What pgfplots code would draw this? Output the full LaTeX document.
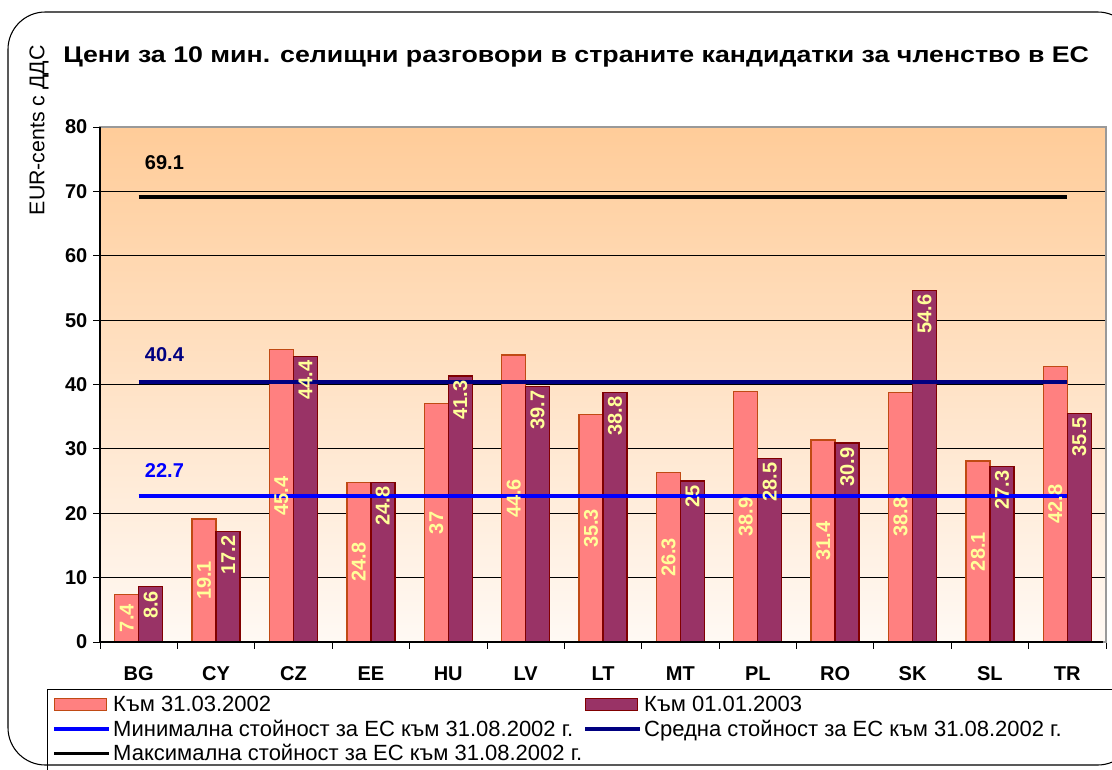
\documentclass[border=0pt]{standalone}
\usepackage{fontspec}
\setmainfont{Liberation Sans}
\usepackage{pgfplots}
\usepackage{pgfplotstable}
\pgfplotsset{compat=1.18}
\definecolor{pinkbar}{HTML}{FF8080}
\definecolor{pinkedge}{HTML}{C04A14}
\definecolor{maroonbar}{HTML}{993366}
\definecolor{maroonedge}{HTML}{800000}
\definecolor{lbl}{HTML}{FFFF99}
\definecolor{bgtop}{HTML}{FFCC99}
\definecolor{bgbot}{HTML}{FFF9F4}
\definecolor{navyl}{HTML}{000080}
\definecolor{bluel}{HTML}{0000FF}
\pgfplotstableread{
x pink maroon
0 7.4 8.6
1 19.1 17.2
2 45.4 44.4
3 24.8 24.8
4 37 41.3
5 44.6 39.7
6 35.3 38.8
7 26.3 25
8 38.9 28.5
9 31.4 30.9
10 38.8 54.6
11 28.1 27.3
12 42.8 35.5
}\datatable
\begin{document}
\begin{tikzpicture}[x=0.75pt,y=0.75pt]
\path[use as bounding box] (0,0) rectangle (1112,769);
\begin{scope}
\clip (0,0) rectangle (1112,769);
\fill[white] (0,0) rectangle (1112,769);
\draw[line width=0.8pt, rounded corners=28] (8,4) rectangle (1135,757);
\node[anchor=west, inner sep=0pt] at (63,712) {\scalebox{1.18}[1]{\bfseries\fontsize{17}{20}\selectfont Цени за 10 мин. селищни разговори в страните кандидатки за членство в ЕС}};
\node[rotate=90, anchor=east, font=\fontsize{16}{18}\selectfont, inner sep=0pt] at (39,724) {EUR-cents с ДДС};
\draw[black, line width=0.7pt] (1125,-5) -- (47,-5) -- (47,80) -- (1125,80);
\begin{axis}[
  at={(75pt,95.25pt)}, anchor=south west,
  scale only axis, width=754.5pt, height=386.25pt,
  xmin=-0.5, xmax=12.5, ymin=0, ymax=80,
  xtick={-0.5,0.5,...,12.5},
  x tick label as interval,
  xticklabels={BG,CY,CZ,EE,HU,LV,LT,MT,PL,RO,SK,SL,TR},
  ytick={0,10,...,80},
  tick pos=left, tick align=outside,
  major tick length=5pt,
  tick style={black, line width=0.6pt},
  ymajorgrids,
  major grid style={black, line width=0.6pt},
  axis line style={draw=gray!80, line width=0.8pt},
  axis background/.style={top color=bgtop, bottom color=bgbot},
  /pgf/number format/assume math mode=true,
  ticklabel style={font=\bfseries\fontsize{15}{18}\selectfont},
  xticklabel style={yshift=-10pt},
  yticklabel style={xshift=-1pt},
  legend columns=2,
  legend style={
    at={(-0.0527,-0.0913)}, anchor=north west,
    draw=none, fill=none,
    font=\fontsize{16.5}{19}\selectfont,
    cells={anchor=west},
    inner xsep=4pt, inner ysep=3pt,
    row sep=0.8pt,
    /tikz/every even column/.append style={column sep=-1pt},
  },
  legend cell align=left,
]
\addplot[ybar, bar width=18pt, bar shift=-9pt, fill=pinkbar, draw=pinkedge, line width=1pt,
  legend image code/.code={\draw[fill=pinkbar, draw=pinkedge, line width=1pt] (0pt,-4.5pt) rectangle (39pt,4.5pt);}
] table[x=x, y=pink] {\datatable};
\addlegendentry{Към 31.03.2002}
\addplot[ybar, bar width=18pt, bar shift=9pt, fill=maroonbar, draw=maroonedge, line width=1pt,
  legend image code/.code={\draw[fill=maroonbar, draw=maroonedge, line width=1pt] (0pt,-4.5pt) rectangle (39pt,4.5pt);}
] table[x=x, y=maroon] {\datatable};
\addlegendentry{Към 01.01.2003}
\addplot[bluel, line width=3pt, legend image code/.code={\draw[bluel, line width=2.5pt] (0pt,0pt) -- (41pt,0pt);}] coordinates {(0,22.7) (12,22.7)};
\addlegendentry{Минимална стойност за ЕС към 31.08.2002 г.}
\addplot[navyl, line width=3pt, legend image code/.code={\draw[navyl, line width=2.5pt] (0pt,0pt) -- (41pt,0pt);}] coordinates {(0,40.4) (12,40.4)};
\addlegendentry{Средна стойност за ЕС към 31.08.2002 г.}
\addplot[black, line width=3pt, legend image code/.code={\draw[black, line width=2.5pt] (0pt,0pt) -- (41pt,0pt);}] coordinates {(0,69.1) (12,69.1)};
\addlegendentry{Максимална стойност за ЕС към 31.08.2002 г.}
% value labels on top of the lines
\addplot[forget plot, ybar, bar width=18pt, bar shift=-9pt, draw=none, fill=none,
  visualization depends on=rawy \as \rawy,
  nodes near coords={\rotatebox{90}{\pgfmathprintnumber{\pgfplotspointmeta}}},
  every node near coord/.append style={anchor=center, xshift=-9pt, yshift=-\rawy*2.414pt, text=lbl, font=\bfseries\fontsize{15}{17}\selectfont},
] table[x=x, y=pink] {\datatable};
\addplot[forget plot, ybar, bar width=18pt, bar shift=9pt, draw=none, fill=none,
  nodes near coords={\rotatebox{90}{\pgfmathprintnumber{\pgfplotspointmeta}}},
  every node near coord/.append style={anchor=north, xshift=9pt, inner sep=3pt, text=lbl, font=\bfseries\fontsize{15}{17}\selectfont},
] table[x=x, y=maroon] {\datatable};
\node[anchor=west, font=\bfseries\fontsize{15}{18}\selectfont, text=black] at (axis cs:0.02,74.4) {69.1};
\node[anchor=west, font=\bfseries\fontsize{15}{18}\selectfont, text=navyl] at (axis cs:0.02,44.6) {40.4};
\node[anchor=west, font=\bfseries\fontsize{15}{18}\selectfont, text=bluel] at (axis cs:0.02,26.7) {22.7};
\end{axis}
\draw[black, line width=0.8pt] (100,642) -- (100,127) -- (1103,127);
\end{scope}
\end{tikzpicture}
\end{document}
